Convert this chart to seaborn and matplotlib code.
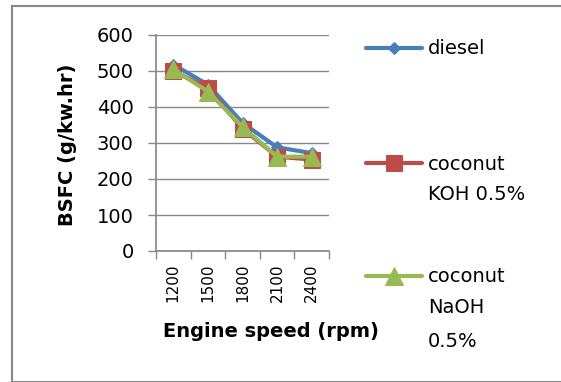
import matplotlib
matplotlib.use("Agg")
import matplotlib.pyplot as plt
import seaborn as sns
import pandas as pd
from matplotlib.patches import Rectangle

speeds = ["1200", "1500", "1800", "2100", "2400"]
diesel = [518, 462, 356, 288, 272]
koh = [500, 452, 340, 262, 254]
naoh = [505, 443, 345, 262, 262]
series_names = ["diesel", "coconut KOH 0.5%", "coconut NaOH 0.5%"]
legend_first = ["diesel", "coconut", "coconut"]
legend_rest = ["", "KOH 0.5%", "NaOH\n0.5%"]
y_ticks = [0, 100, 200, 300, 400, 500, 600]

sns.set_theme(style="white")
plt.rcParams["font.family"] = ["DejaVu Sans"]
plt.rcParams["text.color"] = "black"

W, H = 561, 382
fig = plt.figure(figsize=(W / 100, H / 100), dpi=100)
ax = fig.add_axes([156 / W, 1 - 251 / H, (329 - 156) / W, (251 - 35) / H])

colors = ["#4A7EBB", "#BE4B48", "#98B954"]
markers = ["D", "s", "^"]
msizes = [6.5, 11, 13]
vals = [diesel, koh, naoh]
for name, v, c, m, ms in zip(series_names, vals, colors, markers, msizes):
    df = pd.DataFrame({"speed": speeds, "bsfc": v})
    sns.lineplot(data=df, x="speed", y="bsfc", ax=ax, color=c, marker=m,
                 markersize=ms, markeredgecolor=c, linewidth=3.0, label=name,
                 legend=False)

ax.set_ylim(0, 600)
ax.set_xlim(-0.5, len(speeds) - 0.5)
ax.set_yticks(y_ticks)
ax.set_yticklabels([str(t) for t in y_ticks], fontsize=14, color="black")
ax.set_xticks(range(len(speeds)))
ax.set_xticklabels(speeds, rotation=90, fontsize=11, color="black")
ax.set_xticks([i - 0.5 for i in range(len(speeds) + 1)], minor=True)
ax.tick_params(axis="x", which="major", length=0, pad=9)
ax.tick_params(axis="x", which="minor", length=6, width=1, color="#888888", direction="out", bottom=True)
ax.tick_params(axis="y", which="major", length=6, width=1, color="#888888", direction="out", left=True, pad=10)
ax.grid(axis="y", color="#888888", linewidth=1)
ax.set_axisbelow(True)
for s in ["top", "right"]:
    ax.spines[s].set_visible(False)
ax.spines["left"].set_color("#888888")
ax.spines["bottom"].set_color("#888888")
ax.set_xlabel("Engine speed (rpm)", fontsize=14, fontweight="bold", color="black")
ax.set_ylabel("BSFC (g/kw.hr)", fontsize=14, fontweight="bold", color="black")
ax.xaxis.set_label_coords((271 - 156) / 173, -(322 - 251) / 216)
ax.yaxis.set_label_coords(-(156 - 77) / 173, 0.49)

handles, _ = ax.get_legend_handles_labels()
entry_y = [49, 164, 277]
for h, first, rest, yy in zip(handles, legend_first, legend_rest, entry_y):
    lg = fig.legend([h], [first], loc="center left",
                    bbox_to_anchor=(366 / W, 1 - yy / H), frameon=False,
                    fontsize=14, handlelength=2.9, handletextpad=0.3,
                    borderpad=0, borderaxespad=0)
    lg.get_texts()[0].set_color("black")
    if rest:
        fig.text(428 / W, 1 - (yy + 21) / H, rest, fontsize=14, va="top",
                 ha="left", color="black", linespacing=2.0)

fig.patches.append(Rectangle((12 / W, 0), 1, 1 - 6 / H, transform=fig.transFigure,
                             fill=False, edgecolor="#888888", linewidth=1.5))

fig.savefig("out.png", dpi=100)
